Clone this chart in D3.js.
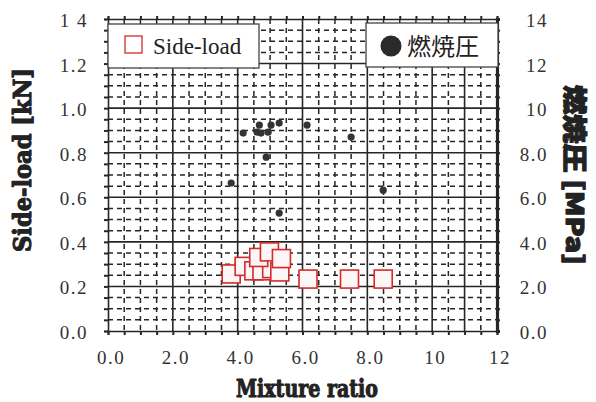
<!DOCTYPE html>
<html>
<head>
<meta charset="utf-8">
<script src="https://cdn.jsdelivr.net/npm/d3@7"></script>
<style>
  html, body { margin: 0; padding: 0; background: #fff; }
  svg { display: block; }
</style>
</head>
<body>
<svg id="chart" width="596" height="402"></svg>
<script>
// Mixture ratio vs side-load (left axis) and combustion pressure (right axis)
const sideLoadMR  = [3.80, 4.20, 4.50, 4.75, 5.05, 5.30, 4.65, 4.98, 5.35, 6.17, 7.45, 8.49];
const sideLoadKN  = [0.256, 0.290, 0.270, 0.270, 0.280, 0.265, 0.330, 0.355, 0.325, 0.233, 0.233, 0.233];

const pressureMR  = [3.80, 4.17, 4.60, 4.67, 4.72, 4.88, 4.94, 5.03, 5.28, 5.28, 6.14, 7.50, 8.49];
const pressureMPa = [6.64, 8.88, 8.92, 9.24, 8.88, 7.80, 8.92, 9.24, 9.33, 5.29, 9.24, 8.70, 6.32];

const xTickValues = [0, 2, 4, 6, 8, 10, 12];
const xTickLabels = ["0.0", "2.0", "4.0", "6.0", "8.0", "10", "12"];
const xMajorGrid  = [2, 4, 6, 8, 10, 11];
const yLeftTicks  = [0, 0.2, 0.4, 0.6, 0.8, 1.0, 1.2, 1.4];
const yLeftLabels = ["0.0", "0.2", "0.4", "0.6", "0.8", "1.0", "1.2", "1 4"];
const yRightTicks = [0, 2, 4, 6, 8, 10, 12, 14];
const yRightLabels = ["0.0", "2.0", "4.0", "6.0", "8.0", "10", "12", "14"];

const legendSide = "Side-load";
const legendPress = "燃焼圧";
const xTitle = "Mixture ratio";
const yLeftTitle = "Side-load [kN]";
const yRightTitle = "燃焼圧 [MPa]";

const svg = d3.select("#chart");
const L = 108, R = 497, T = 19, B = 331;

const x  = d3.scaleLinear().domain([0, 12]).range([L, R]);
const yL = d3.scaleLinear().domain([0, 1.4]).range([B, T]);
const yR = d3.scaleLinear().domain([0, 14]).range([B, T]);

const ink = "#262626";

// minor dashed grid
const xMinor = d3.range(0.5, 12, 0.5).filter(v => !xMajorGrid.includes(v));
const yMinor = d3.range(1, 28).map(i => i * 0.05).filter(v => Math.abs(v / 0.2 - Math.round(v / 0.2)) > 1e-6);

const grid = svg.append("g");
grid.selectAll("line.xm").data(xMinor).join("line")
  .attr("x1", d => x(d)).attr("x2", d => x(d))
  .attr("y1", T).attr("y2", B)
  .attr("stroke", ink).attr("stroke-width", 1.5).attr("stroke-dasharray", "5,4");
grid.selectAll("line.ym").data(yMinor).join("line")
  .attr("y1", d => yL(d)).attr("y2", d => yL(d))
  .attr("x1", L).attr("x2", R)
  .attr("stroke", ink).attr("stroke-width", 1.5).attr("stroke-dasharray", "5,4");

// major solid grid
grid.selectAll("line.xM").data(xMajorGrid).join("line")
  .attr("x1", d => x(d)).attr("x2", d => x(d))
  .attr("y1", T).attr("y2", B)
  .attr("stroke", ink).attr("stroke-width", 1.6);
grid.selectAll("line.yM").data(yLeftTicks.slice(1, -1)).join("line")
  .attr("y1", d => yL(d)).attr("y2", d => yL(d))
  .attr("x1", L).attr("x2", R)
  .attr("stroke", ink).attr("stroke-width", 1.6);

// axes with minor tick marks
const tickFont = "'Liberation Serif', 'Times New Roman', serif";

const xTicksAll = d3.range(0, 12.01, 0.5);
const yTicksAll = d3.range(0, 29).map(i => i * 0.05);

const gBottom = svg.append("g").attr("transform", `translate(0,${B})`)
  .call(d3.axisBottom(x).tickValues(xTicksAll).tickSize(4).tickFormat(""));
const gTop = svg.append("g").attr("transform", `translate(0,${T})`)
  .call(d3.axisTop(x).tickValues(xTicksAll).tickSize(3).tickFormat(""));
const gLeft = svg.append("g").attr("transform", `translate(${L},0)`)
  .call(d3.axisLeft(yL).tickValues(yTicksAll).tickSize(4).tickFormat(""));
const gRight = svg.append("g").attr("transform", `translate(${R},0)`)
  .call(d3.axisRight(yR).tickValues(yTicksAll.map(v => v * 10)).tickSize(3).tickFormat(""));

[gBottom, gTop, gLeft].forEach(g => {
  g.select(".domain").attr("stroke", ink).attr("stroke-width", 1.6);
  g.selectAll(".tick line").attr("stroke", ink).attr("stroke-width", 2);
});
gRight.select(".domain").attr("stroke", ink).attr("stroke-width", 3.2);
gRight.selectAll(".tick line").attr("stroke", ink).attr("stroke-width", 2);

// tick labels
const labelStyle = sel => sel
  .attr("font-family", tickFont).attr("font-size", 19)
  .attr("letter-spacing", 1.5).attr("fill", "#333");

svg.append("g").selectAll("text").data(xTickValues).join("text")
  .attr("x", d => x(d) + 3).attr("y", 364)
  .attr("text-anchor", "middle")
  .text((d, i) => xTickLabels[i]).call(labelStyle);

svg.append("g").selectAll("text").data(yLeftTicks).join("text")
  .attr("x", 88).attr("y", d => yL(d) + 8)
  .attr("text-anchor", "end")
  .text((d, i) => yLeftLabels[i]).call(labelStyle);

svg.append("g").selectAll("text").data(yRightTicks).join("text")
  .attr("x", 548).attr("y", d => yR(d) + 8)
  .attr("text-anchor", "end")
  .text((d, i) => yRightLabels[i]).call(labelStyle);

// axis titles (heavy slab look)
const titleFont = "'DejaVu Serif', 'Noto Sans CJK JP', serif";
const heavy = sel => sel
  .attr("font-weight", "bold").attr("fill", "#222")
  .attr("stroke", "#222").attr("stroke-width", 1.1).attr("stroke-linejoin", "round");

svg.append("text")
  .attr("x", 307).attr("y", 397)
  .attr("text-anchor", "middle")
  .attr("font-family", titleFont).attr("font-size", 25)
  .attr("textLength", 142).attr("lengthAdjust", "spacingAndGlyphs")
  .call(heavy).text(xTitle);

svg.append("text")
  .attr("transform", "translate(31,160) rotate(-90)")
  .attr("text-anchor", "middle")
  .attr("font-family", titleFont).attr("font-size", 24)
  .attr("textLength", 184).attr("lengthAdjust", "spacingAndGlyphs")
  .call(heavy).text(yLeftTitle);

svg.append("text")
  .attr("transform", "translate(566,175) rotate(90)")
  .attr("text-anchor", "middle")
  .attr("font-family", "'Noto Sans CJK JP', 'DejaVu Serif', sans-serif").attr("font-size", 24)
  .attr("textLength", 180).attr("lengthAdjust", "spacingAndGlyphs")
  .call(heavy).attr("font-weight", "900").text(yRightTitle);

// combustion pressure points
svg.append("g").selectAll("circle").data(pressureMR).join("circle")
  .attr("cx", d => x(d)).attr("cy", (d, i) => yR(pressureMPa[i]))
  .attr("r", 3.6).attr("fill", "#333");

// side-load squares
const sq = 18;
svg.append("g").selectAll("rect").data(sideLoadMR).join("rect")
  .attr("x", d => x(d) - sq / 2).attr("y", (d, i) => yL(sideLoadKN[i]) - sq / 2)
  .attr("width", sq).attr("height", sq)
  .attr("fill", "#fdf6f6").attr("stroke", "#d42a2a").attr("stroke-width", 1.6);

// legends
const lg1 = svg.append("g");
lg1.append("rect").attr("x", 108).attr("y", 24).attr("width", 151).attr("height", 44)
  .attr("fill", "#fff").attr("stroke", "#444").attr("stroke-width", 1.3);
lg1.append("rect").attr("x", 125).attr("y", 36).attr("width", 17).attr("height", 17)
  .attr("fill", "#fff").attr("stroke", "#d42a2a").attr("stroke-width", 1.3);
lg1.append("text").attr("x", 153).attr("y", 54)
  .attr("font-family", tickFont).attr("font-size", 23).attr("fill", "#222")
  .text(legendSide);

const lg2 = svg.append("g");
lg2.append("rect").attr("x", 366).attr("y", 23).attr("width", 132).attr("height", 44)
  .attr("fill", "#fff").attr("stroke", "#444").attr("stroke-width", 1.3);
lg2.append("circle").attr("cx", 391).attr("cy", 46).attr("r", 10.5).attr("fill", "#2a2a2a");
lg2.append("text").attr("x", 407).attr("y", 55)
  .attr("font-family", "'Noto Sans CJK JP', sans-serif").attr("font-size", 24).attr("fill", "#222")
  .text(legendPress);
</script>
</body>
</html>
